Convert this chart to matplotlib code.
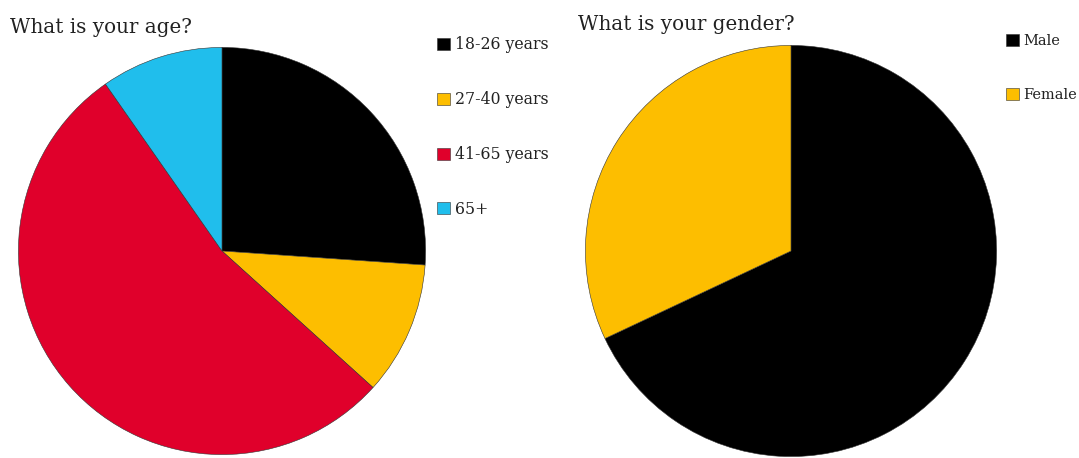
import matplotlib
matplotlib.use("Agg")
import matplotlib.pyplot as plt

age_labels = ["18-26 years", "27-40 years", "41-65 years", "65+"]
age_values = [26.1, 10.6, 53.6, 9.7]
age_colors = ["#000000", "#FDBE00", "#E0002B", "#20BEEC"]

gender_labels = ["Male", "Female"]
gender_values = [68.0, 32.0]
gender_colors = ["#000000", "#FDBE00"]

W, H = 1079, 458
fig = plt.figure(figsize=(W / 100, H / 100), dpi=100)
fig.patch.set_facecolor("white")
plt.rcParams["font.family"] = ["DejaVu Serif"]

def px_axes(x0, y0, w, h):
    return fig.add_axes([x0 / W, 1 - (y0 + h) / H, w / W, h / H])

ax1 = px_axes(18, 47, 408, 408)
w1, _ = ax1.pie(age_values, colors=age_colors, startangle=90, counterclock=False,
                radius=1, wedgeprops=dict(edgecolor="#333333", linewidth=0.4))
ax1.set_xlim(-1.002, 1.002); ax1.set_ylim(-1.002, 1.002); ax1.set_aspect("equal")
ax1.axis("off")

ax2 = px_axes(585, 45, 412, 412)
w2, _ = ax2.pie(gender_values, colors=gender_colors, startangle=90, counterclock=False,
                radius=1, wedgeprops=dict(edgecolor="#333333", linewidth=0.4))
ax2.set_xlim(-1.002, 1.002); ax2.set_ylim(-1.002, 1.002); ax2.set_aspect("equal")
ax2.axis("off")

fig.text(10 / W, 1 - 33 / H, "What is your age?", fontsize=14.3, color="#222222",
         ha="left", va="baseline")
fig.text(578 / W, 1 - 30 / H, "What is your gender?", fontsize=14.3, color="#222222",
         ha="left", va="baseline")

fig.legend(w1, age_labels, loc="upper left", bbox_to_anchor=(437 / W, 1 - 36 / H),
           frameon=False, fontsize=11.3, handlelength=0.8, handleheight=0.8,
           handletextpad=0.35, labelspacing=2.42, borderpad=0, borderaxespad=0,
           labelcolor="#222222")
fig.legend(w2, gender_labels, loc="upper left", bbox_to_anchor=(1006 / W, 1 - 34 / H),
           frameon=False, fontsize=10.5, handlelength=0.9, handleheight=0.9,
           handletextpad=0.3, labelspacing=2.74, borderpad=0, borderaxespad=0,
           labelcolor="#222222")

fig.savefig("out.png", dpi=100, facecolor="white")
